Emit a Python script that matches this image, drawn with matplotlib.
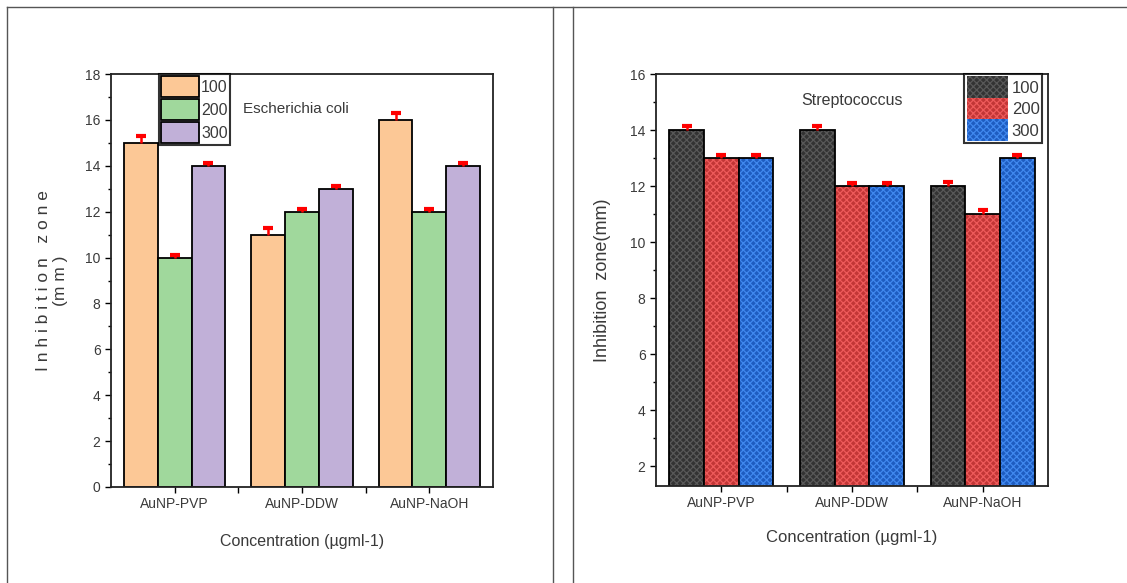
import matplotlib
matplotlib.use("Agg")
import matplotlib.pyplot as plt
import numpy as np
from matplotlib.patches import Patch
from matplotlib.lines import Line2D

plt.rcParams['font.family'] = ['Liberation Sans', 'DejaVu Sans']
plt.rcParams['hatch.linewidth'] = 0.9

categories = ["AuNP-PVP", "AuNP-DDW", "AuNP-NaOH"]
series = ["100", "200", "300"]

# Escherichia coli
ecoli_100 = [15, 11, 16]
ecoli_200 = [10, 12, 12]
ecoli_300 = [14, 13, 14]
ecoli_err_100 = [0.3, 0.3, 0.3]
ecoli_err_200 = [0.1, 0.1, 0.1]
ecoli_err_300 = [0.1, 0.1, 0.1]

# Streptococcus
strep_100 = [14, 14, 12]
strep_200 = [13, 12, 11]
strep_300 = [13, 12, 13]
strep_err_100 = [0.15, 0.15, 0.15]
strep_err_200 = [0.1, 0.1, 0.15]
strep_err_300 = [0.1, 0.1, 0.1]

W, H = 1127, 583
fig = plt.figure(figsize=(W / 100, H / 100), dpi=100)
txt = '#3a3a3a'

def px_axes(x0, y0, x1, y1):
    return fig.add_axes([x0 / W, 1 - y1 / H, (x1 - x0) / W, (y1 - y0) / H])

# panel frame lines
fig.add_artist(Line2D([7 / W, 1], [1 - 7 / H] * 2, color='#555555', lw=1))
fig.add_artist(Line2D([7 / W] * 2, [0, 1 - 7 / H], color='#555555', lw=1))
fig.add_artist(Line2D([553 / W] * 2, [0, 1 - 7 / H], color='#555555', lw=1))
fig.add_artist(Line2D([573 / W] * 2, [0, 1 - 7 / H], color='#555555', lw=1))

x = np.arange(1, 4)
bw = 0.265

def up_err(ax, pos, vals, err):
    eb = ax.errorbar(pos, vals, yerr=[[0] * len(vals), err], fmt='none', ecolor='red',
                     elinewidth=1.8, capsize=3.5, capthick=3, zorder=3)
    # keep only the upper cap
    eb[1][0].set_visible(False)

def style_axes(ax, ymin, ymax):
    ax.set_xlim(0.5, 3.5)
    ax.set_ylim(ymin, ymax)
    ax.set_xticks(x)
    ax.set_xticklabels(categories, fontsize=10, color=txt)
    ax.set_xticks([1.5, 2.5], minor=True)
    ax.tick_params(axis='x', which='both', direction='out', length=4, width=1)
    ax.tick_params(axis='y', which='major', direction='out', length=4, width=1,
                   labelsize=10, labelcolor=txt)
    ax.tick_params(axis='y', which='minor', direction='out', length=2.5, width=1)
    for s in ax.spines.values():
        s.set_linewidth(1.3)
        s.set_color('#222222')

# ---- left: E. coli
ax1 = px_axes(111, 74, 493, 487)
cols1 = ['#FCC896', '#A0D89C', '#C1B0D8']
vals1 = [ecoli_100, ecoli_200, ecoli_300]
errs1 = [ecoli_err_100, ecoli_err_200, ecoli_err_300]
for i in range(3):
    pos = x + (i - 1) * bw
    ax1.bar(pos, vals1[i], bw, color=cols1[i], edgecolor='black', linewidth=1.3, zorder=2)
    up_err(ax1, pos, vals1[i], errs1[i])
style_axes(ax1, 0, 18)
ax1.set_yticks(np.arange(0, 19, 2))
ax1.set_yticks(np.arange(0, 19, 1), minor=True)
ax1.set_ylabel("I n h i b i t i o n   z o n e\n(m m )", fontsize=12.5, color=txt, labelpad=12)
ax1.set_xlabel("Concentration (µgml-1)", fontsize=11.5, color=txt, labelpad=16)
ax1.text(0.345, 0.915, "Escherichia coli", transform=ax1.transAxes, fontsize=11,
         color=txt, va='center')
h1 = [Patch(facecolor=c, edgecolor='black', linewidth=1.3) for c in cols1]
leg1 = ax1.legend(h1, series, loc='upper left', bbox_to_anchor=(0.125, 1.0),
                  fontsize=11.5, frameon=True, fancybox=False, edgecolor='black',
                  handlelength=2.4, handleheight=1.6, handletextpad=0.1,
                  labelspacing=0.15, borderpad=0.15, borderaxespad=0)
leg1.get_frame().set_linewidth(1.5)
for t in leg1.get_texts():
    t.set_color(txt)

# ---- right: Streptococcus
ax2 = px_axes(656, 74, 1048, 486)
cols2 = ['#333333', '#C23636', '#1E5CC0']
hatch_cols2 = ['#585858', '#EE5A5A', '#4088EE']
vals2 = [strep_100, strep_200, strep_300]
errs2 = [strep_err_100, strep_err_200, strep_err_300]
for i in range(3):
    pos = x + (i - 1) * bw
    ax2.bar(pos, vals2[i], bw, color=cols2[i], edgecolor=hatch_cols2[i], hatch='xxxxx',
            linewidth=0, zorder=2)
    ax2.bar(pos, vals2[i], bw, fill=False, edgecolor='black', linewidth=1.3, zorder=2)
    up_err(ax2, pos, vals2[i], errs2[i])
style_axes(ax2, 1.3, 16)
ax2.set_yticks(np.arange(2, 17, 2))
ax2.set_yticks(np.arange(2, 17, 1), minor=True)
ax2.set_ylabel("Inhibition  zone(mm)", fontsize=13, color=txt, labelpad=14)
ax2.set_xlabel("Concentration (µgml-1)", fontsize=12, color=txt, labelpad=14)
ax2.text(0.5, 0.935, "Streptococcus", transform=ax2.transAxes, fontsize=11.5,
         color=txt, ha='center', va='center')
h2 = [Patch(facecolor=c, edgecolor=hc, hatch='xxxxx', linewidth=0)
      for c, hc in zip(cols2, hatch_cols2)]
leg2 = ax2.legend(h2, series, loc='upper right', bbox_to_anchor=(0.985, 1.0),
                  fontsize=12, frameon=True, fancybox=False, edgecolor='black',
                  handlelength=2.5, handleheight=1.6, handletextpad=0.2,
                  labelspacing=0.0, borderpad=0.15, borderaxespad=0)
leg2.get_frame().set_linewidth(1.5)
for t in leg2.get_texts():
    t.set_color(txt)

fig.savefig("out.png", dpi=100)
